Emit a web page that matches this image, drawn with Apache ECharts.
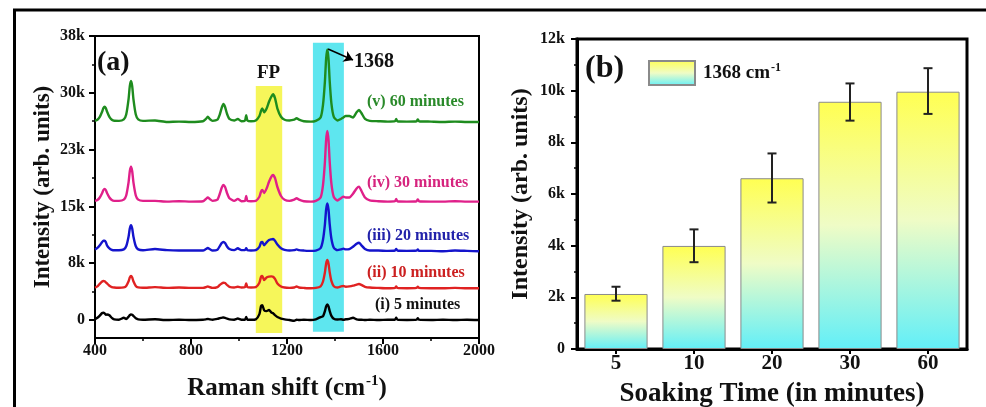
<!DOCTYPE html>
<html>
<head>
<meta charset="utf-8">
<script src="https://cdn.jsdelivr.net/npm/echarts@6/dist/echarts.min.js"></script>
<style>
html,body{margin:0;padding:0;background:#fff;}
#c{width:986px;height:407px;}
</style>
</head>
<body>
<div id="c"></div>
<script>
// ---------- Panel (a): Raman spectra ----------
const ramanShift = [
  400,410,420,430,435,440,445,450,460,470,480,
  500,520,530,540,545,550,555,560,570,580,600,
  650,700,750,800,850,862,870,878,890,910,
  920,928,935,942,950,960,980,995,1010,
  1025,1030,1035,1050,1070,1085,
  1092,1097,1105,1115,1125,1135,1142,1150,1160,1175,1190,
  1210,1230,1240,1250,1270,1300,1320,1340,1350,
  1358,1363,1368,1373,1378,1385,1395,1410,
  1425,1435,1445,1460,1475,1490,1500,1510,1525,1545,
  1580,1620,1650,1655,1660,1700,1740,1745,1750,1800,1850,1900,1950,2000
];
const spec60 = [
  26660,26790,27180,27900,28350,28540,28350,27900,27180,26790,26660,
  26650,26850,27500,29600,31300,32000,31300,29600,27500,26850,26650,
  26700,26500,26550,26500,26600,26900,27200,26900,26650,26800,
  27500,28400,28900,28500,27600,26900,26700,26900,26600,
  26700,27400,26700,26600,26700,27300,
  28000,28300,27800,28300,29200,29900,30200,29700,28300,27200,26800,
  26700,26800,27000,26800,26600,26550,26650,27100,28800,
  31940,34950,36200,34950,31940,29000,27180,26700,
  26900,27100,27300,27300,27100,27800,28100,27700,26900,26650,
  26600,26550,26600,26900,26600,26550,26600,26850,26600,26550,26500,26550,26500,26500
];
const spec30 = [
  15950,16050,16400,17000,17400,17550,17400,17000,16400,16050,15950,
  15950,16110,16670,18460,19900,20500,19900,18460,16670,16110,15950,
  15950,15850,15900,15850,15900,16200,16400,16200,15950,16100,
  16900,17700,18060,17800,17000,16300,15950,16200,15900,
  15950,16600,15950,15900,15950,16500,
  17200,17400,17000,17600,18500,19200,19400,19000,17800,16600,16100,
  15950,16100,16300,16100,15900,15850,15950,16400,18060,
  21130,24080,25300,24080,21130,18250,16460,16000,
  16300,16500,16400,16400,16900,17600,17850,17300,16400,16000,
  15900,15850,15900,16200,15900,15850,15900,16150,15900,15850,15850,15900,15850,15850
];
const spec20 = [
  9450,9650,10000,10450,10600,10600,10450,10000,9600,9400,9330,
  9330,9460,9870,11190,12260,12700,12260,11190,9870,9460,9330,
  9500,9350,9300,9300,9300,9500,9650,9500,9300,9400,
  9900,10300,10450,10300,9850,9500,9350,9600,9350,
  9350,9600,9350,9300,9350,9800,
  10400,10450,10000,10400,10700,10800,10850,10600,10100,9600,9400,
  9300,9350,9450,9350,9300,9250,9300,9630,10750,
  12800,14780,15600,14780,12800,10875,9680,9350,
  9450,9550,9450,9500,9800,10200,10350,10000,9500,9300,
  9300,9250,9300,9500,9300,9250,9300,9450,9250,9250,9200,9300,9250,9200
];
const spec10 = [
  4320,4500,4850,5150,5230,5200,5050,4900,4600,4420,4350,
  4320,4375,4570,5190,5690,5900,5690,5190,4570,4375,4320,
  4400,4300,4350,4300,4300,4400,4500,4400,4300,4400,
  4700,4900,5000,4950,4700,4450,4350,4450,4350,
  4400,4900,4400,4350,4400,5000,
  5800,5900,5350,5700,5800,5850,5800,5500,4900,4500,4350,
  4300,4350,4500,4350,4300,4250,4300,4520,5160,
  6375,7545,8030,7545,6375,5230,4525,4350,
  4500,4550,4450,4500,4600,4750,4820,4700,4450,4350,
  4300,4250,4300,4500,4300,4250,4300,4450,4300,4250,4250,4300,4250,4250
];
const spec5 = [
  100,300,600,950,1000,900,700,750,650,300,100,
  50,300,150,450,650,750,700,550,250,100,50,
  100,0,50,0,50,100,150,100,50,150,
  250,300,350,300,200,100,50,200,50,
  50,400,50,50,100,800,
  1900,2000,1300,1200,1350,1000,900,650,400,200,100,
  0,-100,50,0,50,0,100,400,500,
  1190,1830,2100,1830,1190,560,170,80,
  100,50,100,150,300,100,50,50,0,50,
  0,50,50,300,50,0,50,250,50,0,50,0,50,0
];
const specNames = ['(i) 5 minutes','(ii) 10 minutes','(iii) 20 minutes','(iv) 30 minutes','(v) 60 minutes'];
const yTicksA = [0, 7600, 15200, 22800, 30400, 38000];
const yMinorA = [3800, 11400, 19000, 26600, 34200];
const fpBand = [1070, 1180];
const peakBand = [1308, 1437];

// ---------- Panel (b): bar chart ----------
const soakTimes = ['5','10','20','30','60'];
const peakIntensity = [2130, 3990, 6610, 9570, 9960];
const errLow = [1870, 3360, 5670, 8840, 9100];
const errHigh = [2410, 4630, 7570, 10280, 10870];

const FONT = 'Liberation Serif';
const lineColors = ['#000000','#e02222','#1414cc','#e0208a','#1e8c1e'];
const labelColors = ['#111111','#cc2020','#2222aa','#d6247e','#2a8a2a'];
const specs = [spec5, spec10, spec20, spec30, spec60];

const chart = echarts.init(document.getElementById('c'), null, {renderer:'canvas'});

const kfmt = v => v === 0 ? '0' : Math.round(v/1000) + 'k';
const supRich = (size, supSize) => ({
  a:{fontFamily:FONT, fontWeight:'bold', fontSize:size, color:'#111', lineHeight:size+4},
  s:{fontFamily:FONT, fontWeight:'bold', fontSize:supSize, color:'#111', verticalAlign:'top', lineHeight:size+4, padding:[0,0,0,1]}
});

const lineSeries = specs.map((s, i) => ({
  type:'line', name:specNames[i], xAxisIndex:0, yAxisIndex:0,
  data: ramanShift.map((x, j) => [x, s[j]]),
  showSymbol:false, symbol:'none', smooth:0.2,
  lineStyle:{color:lineColors[i], width:2.4}, z:3, silent:true
}));
lineSeries[0].markArea = {
  silent:true,
  data:[
    [{xAxis:fpBand[0], yAxis:-1740, itemStyle:{color:'#f6f65a'}}, {xAxis:fpBand[1], yAxis:31300}],
    [{xAxis:peakBand[0], yAxis:-1560, itemStyle:{color:'#5ee6ef'}}, {xAxis:peakBand[1], yAxis:37100}]
  ]
};
lineSeries[4].markLine = {
  silent:true, symbol:['none','arrow'], symbolSize:9,
  label:{show:false},
  lineStyle:{color:'#000', width:1.5, type:'solid'},
  data:[[{coord:[1371, 36260]}, {coord:[1475, 34790]}]]
};

const barGrad = new echarts.graphic.LinearGradient(0,0,0,1,[
  {offset:0, color:'#ffff52'},
  {offset:0.5, color:'#effcc6'},
  {offset:1, color:'#62eff8'}
]);

const axisLbl = (size, margin) => ({fontFamily:FONT, fontWeight:'bold', fontSize:size, color:'#111', margin:margin});

const option = {
  animation:false,
  backgroundColor:'#fff',
  grid:[
    {left:95, top:36, width:384, height:302, show:true, borderColor:'#000', borderWidth:2, backgroundColor:'transparent', outerBoundsMode:'none', containLabel:false},
    {left:577, top:39, width:390, height:310, show:true, borderColor:'#000', borderWidth:3, backgroundColor:'transparent', outerBoundsMode:'none', containLabel:false}
  ],
  xAxis:[
    {type:'value', gridIndex:0, min:400, max:2000, interval:400,
     axisLine:{show:true, onZero:false, lineStyle:{color:'#000', width:2}},
     axisTick:{show:true, inside:false, length:6, lineStyle:{color:'#000', width:2}},
     minorTick:{show:true, splitNumber:2, length:3, lineStyle:{color:'#000', width:1.5}},
     axisLabel:Object.assign(axisLbl(16, 5), {formatter: v => String(v)}),
     splitLine:{show:false},
     name:'{a|Raman shift (cm}{s|-1}{a|)}', nameLocation:'middle', nameGap:36,
     nameTextStyle:{rich:supRich(25, 15)}
    },
    {type:'category', gridIndex:1, data:soakTimes,
     axisLine:{show:true, onZero:false, lineStyle:{color:'#000', width:3}},
     axisTick:{show:true, alignWithLabel:true, length:5, lineStyle:{color:'#000', width:2}},
     axisLabel:axisLbl(21, 4),
     name:'Soaking Time (in minutes)', nameLocation:'middle', nameGap:24,
     nameTextStyle:{fontFamily:FONT, fontWeight:'bold', fontSize:27, color:'#111', lineHeight:30}
    }
  ],
  yAxis:[
    {type:'value', gridIndex:0, min:-2400, max:38000,
     axisLine:{show:true, onZero:false, lineStyle:{color:'#000', width:2}},
     axisTick:{show:true, length:6, customValues:yTicksA, lineStyle:{color:'#000', width:2}},
     axisLabel:Object.assign(axisLbl(16, 10), {customValues:yTicksA, formatter:kfmt}),
     splitLine:{show:false},
     name:'Intensity (arb. units)', nameLocation:'middle', nameGap:40, nameRotate:90,
     nameTextStyle:{fontFamily:FONT, fontWeight:'bold', fontSize:23, color:'#111'}
    },
    {type:'value', gridIndex:0, min:-2400, max:38000, position:'left',
     axisLine:{show:false, onZero:false},
     axisTick:{show:true, length:3, customValues:yMinorA, lineStyle:{color:'#000', width:1.5}},
     axisLabel:{show:false, customValues:yMinorA},
     splitLine:{show:false}
    },
    {type:'value', gridIndex:1, min:0, max:12000, interval:2000,
     axisLine:{show:true, onZero:false, lineStyle:{color:'#000', width:3}},
     axisTick:{show:true, length:6, lineStyle:{color:'#000', width:2}},
     minorTick:{show:true, splitNumber:2, length:3, lineStyle:{color:'#000', width:1.5}},
     axisLabel:Object.assign(axisLbl(16, 12), {formatter:kfmt}),
     splitLine:{show:false},
     name:'Intensity (arb. units)', nameLocation:'middle', nameGap:44, nameRotate:90,
     nameTextStyle:{fontFamily:FONT, fontWeight:'bold', fontSize:24, color:'#111'}
    }
  ],
  legend:{
    show:true, left:643, top:55, orient:'horizontal',
    data:[{name:'1368 cm-1', icon:'rect'}],
    itemWidth:46, itemHeight:24, itemGap:5,
    formatter:() => '{a|1368 cm}{s|-1}',
    textStyle:{rich:supRich(19, 12), padding:[0,0,0,3]},
    selectedMode:false
  },
  series:[
    ...lineSeries,
    {type:'bar', name:'1368 cm-1', xAxisIndex:1, yAxisIndex:2,
     data:peakIntensity, barCategoryGap:'19%',
     itemStyle:{color:barGrad, borderColor:'#8a8a8a', borderWidth:1}, z:2, silent:true},
    {type:'custom', name:'err', xAxisIndex:1, yAxisIndex:2, silent:true, z:4,
     data: soakTimes.map((t, i) => [i, errLow[i], errHigh[i]]),
     encode:{x:0, y:[1,2]},
     renderItem:(params, api) => {
       const i = api.value(0);
       const lo = api.coord([i, api.value(1)]);
       const hi = api.coord([i, api.value(2)]);
       const hw = 4.5;
       const st = {stroke:'#222', lineWidth:2};
       return {type:'group', children:[
         {type:'line', shape:{x1:hi[0], y1:hi[1], x2:lo[0], y2:lo[1]}, style:st},
         {type:'line', shape:{x1:hi[0]-hw, y1:hi[1], x2:hi[0]+hw, y2:hi[1]}, style:st},
         {type:'line', shape:{x1:lo[0]-hw, y1:lo[1], x2:lo[0]+hw, y2:lo[1]}, style:st}
       ]};
     }
    }
  ],
  graphic:[
    {type:'line', shape:{x1:13, y1:10, x2:986, y2:10}, style:{stroke:'#000', lineWidth:3}, silent:true},
    {type:'line', shape:{x1:14.5, y1:9, x2:14.5, y2:407}, style:{stroke:'#000', lineWidth:3}, silent:true},
    {type:'text', x:97, y:63, style:{text:'(a)', font:'bold 28px "Liberation Serif"', fill:'#111', verticalAlign:'middle', textVerticalAlign:'middle'}, silent:true},
    {type:'text', x:257, y:73, style:{text:'FP', font:'bold 19px "Liberation Serif"', fill:'#111', verticalAlign:'middle', textVerticalAlign:'middle'}, silent:true},
    {type:'text', x:354, y:62, style:{text:'1368', font:'bold 20px "Liberation Serif"', fill:'#111', verticalAlign:'middle', textVerticalAlign:'middle'}, silent:true},
    ...[[367,102,4],[367,183,3],[367,236,2],[367,273,1],[375,305,0]].map(p => ({
      type:'text', x:p[0], y:p[1], silent:true,
      style:{text:specNames[p[2]], font:'bold 16px "Liberation Serif"', fill:labelColors[p[2]], verticalAlign:'middle', textVerticalAlign:'middle'}
    })),
    {type:'text', x:585, y:69, style:{text:'(b)', font:'bold 32px "Liberation Serif"', fill:'#111', verticalAlign:'middle', textVerticalAlign:'middle'}, silent:true}
  ]
};
chart.setOption(option);
</script>
</body>
</html>
